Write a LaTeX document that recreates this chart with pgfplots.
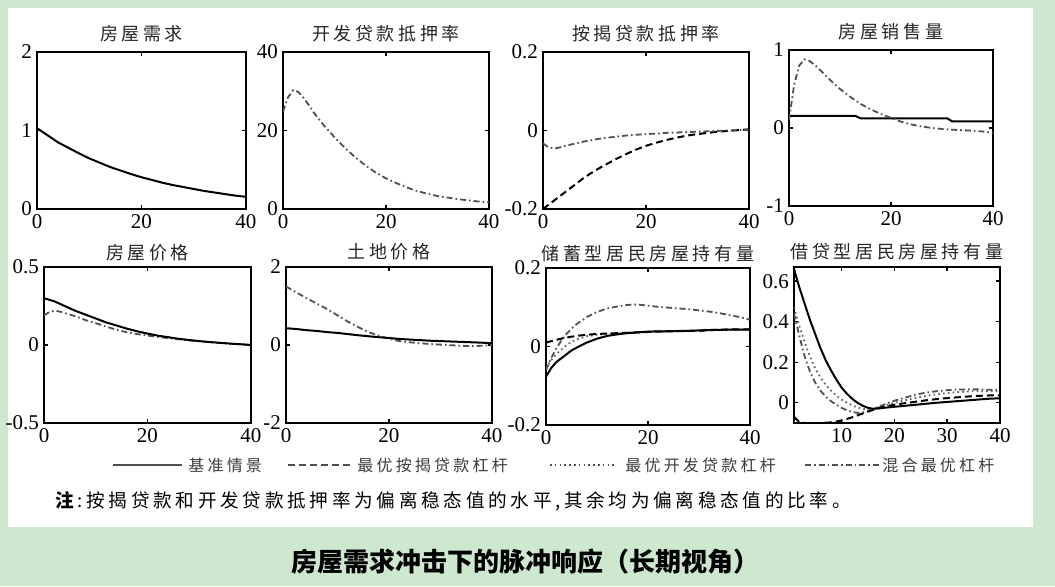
\documentclass[border=0pt]{standalone}
\usepackage{pgfplots}
\pgfplotsset{compat=1.18}
\usepackage{fontspec}
\setmainfont{Liberation Serif}
\newfontfamily\cjkt{Noto Sans CJK SC}[LetterSpace=20]
\newfontfamily\cjk{Noto Sans CJK SC}
\definecolor{bggreen}{RGB}{206,232,207}
\definecolor{gthree}{RGB}{95,95,95}
\definecolor{gfour}{RGB}{80,80,80}
\definecolor{legtxt}{RGB}{60,60,60}
\tikzset{
 sA/.style={black,line width=1pt},
 sB/.style={black,line width=1pt,dash pattern=on 3.5pt off 2pt},
 sC/.style={gthree,line width=0.9pt,dash pattern=on 0.8pt off 1.6pt},
 sD/.style={gfour,line width=0.9pt,dash pattern=on 3pt off 1.5pt on 0.8pt off 1.5pt},
}
\pgfplotsset{
 irf/.style={
  scale only axis, anchor=south west,
  xmin=0, xmax=40, xtick={0,20,40}, xticklabels={0,20,40},
  tick align=inside, major tick length=2.2pt,
  axis line style={line width=0.9pt},
  every tick/.style={black,line width=0.7pt},
  tick label style={font=\fontsize{10.5}{11}\selectfont},
  xticklabel style={yshift=1pt},
  yticklabel style={xshift=1pt},
  title style={font=\cjkt\fontsize{9}{10}\selectfont, color=black!85, at={(0.5,1)}, anchor=base, yshift=0pt},
 },
 rowtwo/.style={title style={yshift=-2pt}},
}
\begin{document}
\begin{tikzpicture}
\path[use as bounding box] (0,0) rectangle (527.5pt,293pt);
\fill[bggreen] (0,0) rectangle (527.5pt,293pt);
\fill[white] (4pt,29.5pt) rectangle (516.5pt,289pt);

% 1 房屋需求
\begin{axis}[irf, at={(18.5pt,188.5pt)}, width=104.5pt, height=78.5pt,
  ymin=0, ymax=2, ytick={0,1,2}, yticklabels={0,1,2}, title={房屋需求}]
\addplot[sA] coordinates {(0,1.03)(2,0.94)(4,0.85)(6,0.78)(8,0.71)(10,0.645)(12,0.59)(14,0.535)(16,0.49)(18,0.445)(20,0.405)(22,0.37)(24,0.335)(26,0.305)(28,0.28)(30,0.255)(32,0.23)(34,0.21)(36,0.19)(38,0.17)(40,0.155)};
\end{axis}

% 2 开发贷款抵押率
\begin{axis}[irf, at={(141.5pt,188.5pt)}, width=103pt, height=78.5pt,
  ymin=0, ymax=40, ytick={0,20,40}, yticklabels={0,20,40}, title={开发贷款抵押率}]
\addplot[sD] coordinates {(0,24.8)(1,28.5)(2,30.3)(3,29.8)(4,28.3)(5,26.5)(6,24.5)(8,21.2)(10,18.3)(12,15.6)(14,13.2)(16,11.1)(18,9.3)(20,7.8)(22,6.6)(24,5.5)(26,4.6)(28,3.9)(30,3.3)(32,2.9)(34,2.5)(36,2.2)(38,1.9)(40,1.7)};
\end{axis}

% 3 按揭贷款抵押率
\begin{axis}[irf, at={(271.5pt,188.5pt)}, width=103pt, height=78.5pt,
  ymin=-0.2, ymax=0.2, ytick={-0.2,0,0.2}, yticklabels={-0.2,0,0.2}, title={按揭贷款抵押率}]
\addplot[sB] coordinates {(0,-0.2)(2,-0.18)(4,-0.16)(6,-0.14)(8,-0.12)(10,-0.103)(12,-0.088)(14,-0.074)(16,-0.061)(18,-0.049)(20,-0.039)(22,-0.031)(24,-0.024)(26,-0.018)(28,-0.013)(30,-0.009)(32,-0.006)(34,-0.003)(36,-0.001)(38,0.001)(40,0.003)};
\addplot[sD] coordinates {(0,-0.033)(1,-0.042)(2,-0.046)(3,-0.044)(4,-0.04)(6,-0.034)(8,-0.028)(10,-0.023)(12,-0.019)(14,-0.016)(16,-0.013)(18,-0.011)(20,-0.009)(22,-0.008)(24,-0.006)(26,-0.005)(28,-0.004)(30,-0.003)(32,-0.002)(34,-0.001)(36,0.0)(38,0.001)(40,0.002)};
\end{axis}

% 4 房屋销售量
\begin{axis}[irf, at={(394.5pt,190pt)}, width=102pt, height=78pt,
  ymin=-1, ymax=1, ytick={-1,0,1}, yticklabels={-1,0,1}, title={房屋销售量}]
\addplot[sA] coordinates {(0,0.155)(13,0.155)(14,0.125)(31,0.125)(32,0.085)(40,0.085)};
\addplot[sD] coordinates {(0,0.1)(1,0.55)(2,0.8)(3,0.88)(4,0.86)(5,0.81)(6,0.75)(8,0.62)(10,0.5)(12,0.4)(14,0.31)(16,0.24)(18,0.18)(20,0.13)(22,0.08)(24,0.045)(26,0.02)(28,0.0)(30,-0.012)(32,-0.022)(34,-0.028)(36,-0.035)(38,-0.045)(40,-0.06)};
\end{axis}

% 5 房屋价格
\begin{axis}[irf, rowtwo, at={(22pt,81.5pt)}, width=103.5pt, height=78pt,
  ymin=-0.5, ymax=0.5, ytick={-0.5,0,0.5}, yticklabels={-0.5,0,0.5}, title={房屋价格}]
\addplot[sD] coordinates {(0,0.19)(1,0.21)(2,0.22)(3,0.215)(4,0.205)(6,0.185)(8,0.16)(10,0.14)(12,0.118)(14,0.098)(16,0.082)(18,0.07)(20,0.06)(22,0.052)(24,0.044)(26,0.037)(28,0.03)(30,0.024)(32,0.018)(34,0.013)(36,0.008)(38,0.004)(40,0.0)};
\addplot[sA] coordinates {(0,0.30)(2,0.28)(4,0.25)(6,0.22)(8,0.195)(10,0.17)(12,0.145)(14,0.125)(16,0.105)(18,0.088)(20,0.073)(22,0.06)(24,0.05)(26,0.04)(28,0.032)(30,0.025)(32,0.019)(34,0.014)(36,0.009)(38,0.005)(40,0.0)};
\end{axis}

% 6 土地价格
\begin{axis}[irf, rowtwo, at={(143pt,81.5pt)}, width=103pt, height=78pt,
  ymin=-2, ymax=2, ytick={-2,0,2}, yticklabels={-2,0,2}, title={土地价格}]
\addplot[sD] coordinates {(0,1.5)(2,1.35)(4,1.2)(6,1.06)(8,0.92)(10,0.76)(12,0.6)(14,0.46)(16,0.33)(18,0.24)(20,0.16)(22,0.1)(24,0.07)(26,0.045)(28,0.025)(30,0.01)(32,-0.005)(34,-0.02)(36,-0.03)(38,-0.02)(40,0.0)};
\addplot[sA] coordinates {(0,0.43)(2,0.41)(4,0.38)(6,0.36)(8,0.33)(10,0.31)(12,0.28)(14,0.25)(16,0.225)(18,0.2)(20,0.18)(22,0.155)(24,0.14)(26,0.125)(28,0.11)(30,0.1)(32,0.09)(34,0.08)(36,0.07)(38,0.06)(40,0.045)};
\end{axis}

% 7 储蓄型居民房屋持有量
\begin{axis}[irf, rowtwo, at={(273pt,80.5pt)}, width=102pt, height=78.5pt,
  ymin=-0.2, ymax=0.2, ytick={-0.2,0,0.2}, yticklabels={-0.2,0,0.2}, title={储蓄型居民房屋持有量}]
\addplot[sD] coordinates {(0,-0.06)(1,-0.03)(2,-0.005)(3,0.015)(4,0.032)(5,0.045)(6,0.057)(8,0.075)(10,0.088)(12,0.097)(14,0.102)(16,0.106)(18,0.107)(20,0.104)(22,0.101)(24,0.099)(26,0.097)(28,0.095)(30,0.092)(32,0.089)(34,0.085)(36,0.08)(38,0.075)(40,0.068)};
\addplot[sC] coordinates {(0,-0.055)(1,-0.035)(2,-0.02)(3,-0.008)(4,0.003)(5,0.012)(6,0.018)(8,0.026)(10,0.03)(14,0.034)(20,0.038)(30,0.041)(40,0.044)};
\addplot[sB] coordinates {(0,0.01)(2,0.017)(4,0.023)(6,0.027)(8,0.03)(10,0.032)(14,0.034)(18,0.036)(22,0.038)(26,0.039)(30,0.04)(34,0.043)(40,0.044)};
\addplot[sA] coordinates {(0,-0.077)(1,-0.055)(2,-0.04)(3,-0.03)(4,-0.02)(5,-0.01)(6,-0.003)(8,0.01)(10,0.02)(12,0.027)(14,0.031)(16,0.034)(18,0.036)(20,0.038)(24,0.039)(28,0.04)(32,0.042)(36,0.043)(40,0.043)};
\end{axis}

% 8 借贷型居民房屋持有量
\begin{axis}[irf, rowtwo, at={(397pt,81.5pt)}, width=103pt, height=78pt,
  xmin=1, xmax=40, xtick={10,20,30,40}, xticklabels={10,20,30,40},
  ymin=-0.1, ymax=0.67, ytick={0,0.2,0.4,0.6}, yticklabels={0,0.2,0.4,0.6}, title={借贷型居民房屋持有量}]
\addplot[sD] coordinates {(1,0.44)(2,0.33)(3,0.23)(4,0.155)(5,0.1)(6,0.06)(7,0.03)(8,0.008)(9,-0.01)(10,-0.025)(11,-0.037)(12,-0.045)(13,-0.05)(14,-0.048)(15,-0.04)(16,-0.03)(18,-0.01)(20,0.01)(22,0.025)(24,0.04)(26,0.05)(28,0.057)(30,0.062)(32,0.065)(34,0.066)(36,0.066)(38,0.064)(40,0.062)};
\addplot[sC] coordinates {(1,0.47)(2,0.38)(3,0.3)(4,0.23)(5,0.17)(6,0.125)(7,0.088)(8,0.06)(9,0.035)(10,0.016)(11,0.0)(12,-0.013)(13,-0.023)(14,-0.03)(15,-0.033)(16,-0.03)(18,-0.015)(20,0.0)(22,0.012)(24,0.024)(26,0.034)(28,0.042)(30,0.048)(32,0.053)(34,0.056)(36,0.057)(38,0.057)(40,0.057)};
\addplot[sB] coordinates {(1,-0.07)(2,-0.095)(3,-0.1)(4,-0.1)(6,-0.1)(8,-0.097)(10,-0.088)(12,-0.072)(14,-0.053)(16,-0.035)(18,-0.02)(20,-0.01)(22,-0.002)(24,0.005)(26,0.012)(28,0.018)(30,0.023)(32,0.027)(34,0.031)(36,0.034)(38,0.036)(40,0.037)};
\addplot[sA] coordinates {(1,0.66)(2,0.57)(3,0.49)(4,0.41)(5,0.34)(6,0.27)(7,0.21)(8,0.16)(9,0.115)(10,0.075)(11,0.045)(12,0.02)(13,0.0)(14,-0.015)(15,-0.025)(16,-0.03)(17,-0.028)(18,-0.025)(20,-0.02)(22,-0.015)(24,-0.01)(26,-0.005)(28,0.0)(30,0.004)(32,0.008)(34,0.012)(36,0.016)(38,0.02)(40,0.022)};
\end{axis}

% legend
\begin{scope}[font=\cjkt\fontsize{8}{9}\selectfont]
\draw[gfour,line width=1pt] (56.5pt,60.5pt) -- (91pt,60.5pt);
\node[anchor=west,inner sep=0pt,text=legtxt] at (94pt,60.5pt) {基准情景};
\draw[gfour,line width=1pt,dash pattern=on 3.5pt off 2pt] (144pt,60.5pt) -- (176.5pt,60.5pt);
\node[anchor=west,inner sep=0pt,text=legtxt] at (178.5pt,60.5pt) {最优按揭贷款杠杆};
\draw[gfour,line width=0.9pt,dash pattern=on 0.8pt off 1.6pt] (275pt,60.5pt) -- (308.5pt,60.5pt);
\node[anchor=west,inner sep=0pt,text=legtxt] at (312.5pt,60.5pt) {最优开发贷款杠杆};
\draw[gfour,line width=0.9pt,dash pattern=on 3pt off 1.5pt on 0.8pt off 1.5pt] (402.5pt,60.5pt) -- (440pt,60.5pt);
\node[anchor=west,inner sep=0pt,text=legtxt] at (441pt,60.5pt) {混合最优杠杆};
\end{scope}

% note
\node[anchor=west,inner sep=0pt,font=\cjkt\fontsize{9.3}{10}\selectfont] at (27.5pt,42.5pt)
 {\textbf{注}:按揭贷款和开发贷款抵押率为偏离稳态值的水平,其余均为偏离稳态值的比率。};

% caption
\node[font=\cjk\bfseries\fontsize{13}{14}\selectfont] at (262.5pt,12pt) {房屋需求冲击下的脉冲响应（长期视角）};
\end{tikzpicture}
\end{document}
